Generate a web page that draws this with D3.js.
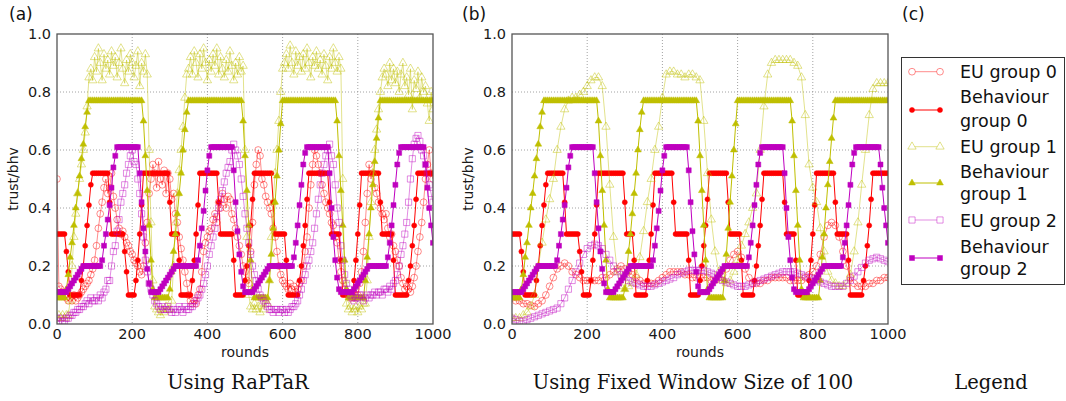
<!DOCTYPE html>
<html>
<head>
<meta charset="utf-8">
<script src="https://cdn.jsdelivr.net/npm/d3@7"></script>
<style>
  body { margin: 0; background: #fff; }
  svg { display: block; }
</style>
</head>
<body>
<div id="chart"></div>
<script>
// ---- data ----
// behaviour series, one value every 5 rounds (same in both panels)
const behaviour0 = [
  .31,.31,.31,.31,.31,.25,.18,.1,.1,.1,
  .1,.1,.1,.15,.2,.27,.34,.41,.48,.52,
  .52,.52,.52,.52,.52,.52,.52,.52,.42,.31,
  .31,.31,.31,.31,.31,.31,.25,.18,.1,.1,
  .1,.1,.15,.22,.31,.41,.52,.52,.52,.52,
  .52,.52,.52,.52,.52,.52,.52,.52,.52,.52,
  .42,.31,.31,.31,.31,.22,.1,.1,.1,.1,
  .1,.1,.15,.22,.31,.41,.52,.52,.52,.52,
  .52,.52,.52,.52,.52,.52,.42,.31,.31,.31,
  .31,.31,.31,.31,.22,.1,.1,.1,.1,.1,
  .15,.2,.27,.34,.43,.52,.52,.52,.52,.52,
  .52,.52,.52,.52,.52,.42,.31,.31,.31,.31,
  .31,.31,.22,.1,.1,.1,.1,.1,.1,.15,
  .2,.27,.34,.43,.52,.52,.52,.52,.52,.52,
  .52,.52,.52,.52,.52,.42,.31,.31,.31,.31,
  .31,.22,.1,.1,.1,.1,.1,.1,.15,.22,
  .31,.41,.52,.52,.52,.52,.52,.52,.52,.52,
  .52,.52,.42,.31,.31,.31,.31,.31,.31,.22,
  .1,.1,.1,.1,.1,.1,.1,.15,.2,.27,
  .34,.43,.52,.52,.52,.52,.52,.52,.52,.52,
  .52
];
const behaviour1 = [
  .09,.09,.09,.09,.09,.12,.17,.23,.28,.34,
  .4,.45,.51,.57,.62,.68,.73,.77,.77,.77,
  .77,.77,.77,.77,.77,.77,.77,.77,.77,.77,
  .77,.77,.77,.77,.77,.77,.77,.77,.77,.77,
  .77,.77,.77,.77,.77,.77,.7,.58,.46,.34,
  .22,.12,.09,.09,.09,.09,.09,.09,.09,.09,
  .12,.18,.25,.31,.38,.45,.52,.6,.67,.73,
  .77,.77,.77,.77,.77,.77,.77,.77,.77,.77,
  .77,.77,.77,.77,.77,.77,.77,.77,.77,.77,
  .77,.77,.77,.77,.77,.77,.77,.77,.77,.7,
  .58,.46,.34,.22,.12,.09,.09,.09,.09,.09,
  .09,.09,.09,.15,.24,.33,.42,.51,.6,.69,
  .77,.77,.77,.77,.77,.77,.77,.77,.77,.77,
  .77,.77,.77,.77,.77,.77,.77,.77,.77,.77,
  .77,.77,.77,.77,.77,.77,.77,.77,.77,.7,
  .58,.46,.34,.22,.12,.09,.09,.09,.09,.09,
  .09,.09,.09,.09,.15,.23,.31,.4,.48,.56,
  .64,.71,.77,.77,.77,.77,.77,.77,.77,.77,
  .77,.77,.77,.77,.77,.77,.77,.77,.77,.77,
  .77,.77,.77,.77,.77,.77,.77,.77,.77,.77,
  .77
];
const behaviour2 = [
  .11,.11,.11,.11,.11,.11,.12,.13,.14,.15,
  .16,.17,.18,.19,.2,.2,.2,.2,.2,.2,
  .2,.2,.2,.2,.22,.27,.31,.36,.41,.47,
  .54,.58,.61,.61,.61,.61,.61,.61,.61,.61,
  .61,.61,.61,.61,.52,.42,.33,.25,.19,.14,
  .11,.11,.11,.11,.11,.12,.13,.14,.15,.16,
  .17,.18,.19,.2,.2,.2,.2,.2,.2,.2,
  .2,.2,.2,.2,.2,.22,.27,.33,.39,.46,
  .53,.58,.61,.61,.61,.61,.61,.61,.61,.61,
  .61,.61,.61,.61,.53,.42,.32,.24,.18,.13,
  .11,.11,.11,.11,.11,.12,.13,.14,.15,.16,
  .17,.18,.19,.2,.2,.2,.2,.2,.2,.2,
  .2,.2,.2,.2,.2,.2,.23,.28,.34,.41,
  .48,.55,.59,.61,.61,.61,.61,.61,.61,.61,
  .61,.61,.61,.61,.61,.52,.4,.3,.22,.16,
  .12,.11,.11,.11,.11,.11,.11,.11,.12,.13,
  .14,.15,.16,.17,.18,.19,.2,.2,.2,.2,
  .2,.2,.2,.2,.2,.2,.23,.28,.34,.41,
  .48,.55,.59,.61,.61,.61,.61,.61,.61,.61,
  .61,.61,.61,.61,.61,.61,.55,.47,.4,.34,
  .28
];

// panel (a) RaPTaR expected utility, one value every 5 rounds
const euRaptar0 = [
  .5,.13,.12,.11,.1,.09,.08,.09,.08,.1,
  .08,.09,.1,.11,.12,.13,.14,.15,.17,.19,
  .22,.27,.33,.38,.42,.47,.5,.45,.47,.52,
  .44,.4,.36,.33,.31,.32,.3,.28,.27,.25,
  .24,.22,.21,.2,.18,.17,.2,.28,.35,.45,
  .5,.55,.52,.47,.56,.5,.48,.53,.45,.52,
  .5,.43,.45,.38,.35,.3,.26,.22,.18,.14,
  .1,.08,.07,.08,.07,.1,.12,.18,.25,.28,
  .3,.32,.33,.36,.38,.35,.42,.4,.45,.43,
  .4,.44,.43,.38,.36,.33,.3,.27,.24,.2,
  .18,.15,.14,.25,.35,.48,.55,.6,.58,.5,
  .48,.44,.42,.4,.38,.33,.3,.25,.2,.17,
  .15,.14,.13,.12,.14,.12,.13,.11,.12,.14,
  .15,.2,.25,.3,.4,.48,.55,.6,.58,.55,
  .52,.48,.45,.42,.4,.38,.35,.34,.3,.28,
  .22,.18,.15,.12,.11,.1,.09,.1,.09,.12,
  .1,.14,.18,.25,.35,.45,.55,.5,.52,.47,
  .45,.42,.4,.38,.36,.38,.33,.3,.31,.27,
  .25,.22,.2,.16,.14,.12,.13,.12,.11,.13,
  .16,.2,.25,.3,.35,.42,.5,.55,.6,.52,
  .5
];
const euRaptar1 = [
  .02,.03,.02,.03,.02,.03,.03,.08,.2,.3,
  .38,.45,.5,.55,.6,.66,.75,.85,.88,.84,
  .92,.87,.95,.9,.84,.93,.88,.91,.86,.94,
  .89,.92,.85,.9,.95,.88,.83,.91,.87,.93,
  .9,.85,.89,.94,.82,.9,.87,.93,.86,.6,
  .35,.15,.06,.05,.04,.03,.05,.04,.06,.05,
  .05,.08,.2,.35,.45,.53,.6,.68,.78,.86,
  .88,.92,.86,.94,.9,.85,.93,.88,.95,.9,
  .84,.91,.87,.93,.89,.95,.86,.92,.88,.85,
  .91,.87,.94,.89,.84,.9,.86,.92,.87,.89,
  .6,.3,.1,.06,.05,.07,.05,.06,.04,.07,
  .05,.08,.07,.15,.3,.42,.52,.6,.7,.8,
  .88,.9,.93,.88,.96,.9,.86,.94,.89,.92,
  .87,.93,.88,.95,.9,.85,.92,.89,.94,.88,
  .91,.86,.93,.89,.84,.92,.88,.95,.9,.87,
  .92,.88,.5,.15,.07,.05,.06,.04,.05,.06,
  .04,.06,.05,.07,.07,.15,.3,.42,.52,.6,
  .67,.74,.8,.85,.88,.86,.82,.9,.84,.88,
  .83,.87,.8,.86,.9,.82,.85,.79,.88,.74,
  .84,.81,.87,.78,.85,.8,.82,.76,.7,.8,
  .74
];
const euRaptar2 = [
  .02,.01,.02,.01,.01,.02,.02,.03,.03,.04,
  .04,.05,.05,.06,.06,.07,.08,.07,.09,.08,
  .08,.09,.08,.1,.09,.11,.12,.15,.15,.2,
  .25,.27,.32,.36,.42,.45,.48,.52,.55,.58,
  .6,.56,.55,.5,.45,.38,.3,.22,.18,.14,
  .12,.1,.08,.07,.06,.05,.06,.05,.05,.06,
  .05,.04,.05,.04,.05,.06,.05,.04,.06,.05,
  .05,.06,.06,.07,.08,.09,.1,.12,.14,.17,
  .2,.24,.27,.3,.33,.37,.4,.43,.46,.49,
  .52,.54,.56,.6,.62,.6,.58,.55,.5,.44,
  .38,.33,.28,.24,.2,.17,.15,.12,.1,.09,
  .08,.07,.06,.05,.05,.04,.05,.05,.04,.05,
  .05,.04,.05,.04,.05,.06,.06,.07,.08,.1,
  .12,.15,.17,.2,.22,.25,.28,.33,.38,.43,
  .48,.52,.55,.58,.6,.62,.58,.55,.48,.4,
  .35,.27,.22,.17,.14,.12,.1,.09,.08,.09,
  .09,.1,.1,.08,.09,.1,.09,.1,.1,.11,
  .1,.11,.11,.1,.12,.12,.11,.13,.12,.14,
  .15,.17,.2,.24,.27,.31,.35,.42,.5,.57,
  .62,.64,.65,.63,.6,.58,.55,.52,.48,.45,
  .42
];

// panel (b) fixed window expected utility, one value every 10 rounds
const euWindow0 = [
  .09,.08,.08,.07,.07,.065,.06,.07,.08,.1,
  .13,.16,.19,.2,.21,.2,.18,.17,.16,.15,
  .15,.15,.15,.15,.16,.16,.17,.18,.19,.2,
  .19,.18,.17,.16,.15,.14,.14,.14,.14,.15,
  .16,.17,.18,.18,.18,.18,.17,.17,.16,.16,
  .16,.16,.16,.15,.15,.16,.17,.19,.22,.24,
  .25,.23,.19,.16,.14,.14,.14,.15,.15,.16,
  .16,.16,.16,.16,.15,.15,.15,.15,.16,.17,
  .18,.2,.24,.3,.34,.35,.34,.3,.25,.2,
  .16,.14,.13,.13,.13,.14,.14,.15,.15,.16,
  .16
];
const euWindow1 = [
  .02,.02,.02,.03,.04,.06,.1,.2,.28,.36,
  .43,.5,.6,.68,.74,.77,.78,.78,.79,.8,
  .82,.84,.85,.85,.82,.68,.48,.3,.18,.13,
  .12,.13,.14,.17,.23,.32,.42,.5,.6,.68,
  .78,.86,.87,.87,.86,.86,.85,.86,.86,.85,
  .84,.7,.52,.36,.25,.18,.15,.14,.15,.18,
  .22,.27,.31,.35,.4,.45,.6,.75,.86,.9,
  .91,.91,.91,.91,.91,.9,.89,.85,.72,.55,
  .47,.42,.33,.25,.18,.15,.14,.13,.13,.14,
  .17,.25,.35,.48,.6,.72,.81,.83,.83,.83,
  .83
];
const euWindow2 = [
  .02,.015,.01,.01,.015,.02,.025,.03,.035,.04,
  .045,.05,.055,.07,.09,.12,.15,.18,.21,.24,
  .26,.27,.275,.27,.26,.24,.22,.2,.18,.17,
  .16,.15,.145,.14,.135,.13,.13,.13,.135,.14,
  .145,.15,.155,.16,.17,.175,.18,.185,.185,.185,
  .185,.185,.18,.175,.17,.16,.15,.145,.14,.135,
  .13,.13,.13,.135,.14,.145,.15,.155,.16,.165,
  .17,.175,.18,.18,.18,.18,.175,.17,.165,.16,
  .155,.15,.145,.14,.135,.13,.13,.13,.13,.14,
  .15,.165,.18,.195,.21,.22,.225,.23,.225,.22,
  .215
];

const yTicks = [0, 0.2, 0.4, 0.6, 0.8, 1.0];
const xTicks = [0, 200, 400, 600, 800, 1000];
const legendNames = ["EU group 0", "Behaviour group 0", "EU group 1", "Behaviour group 1", "EU group 2", "Behaviour group 2"];

// ---- layout ----
const W = 1066, H = 401;
const plotTop = 34, plotH = 290, plotW = 376;
const colors = ["#ff0000", "#bfbf00", "#bf00bf"];
const shapes = [d3.symbolCircle, d3.symbolTriangle, d3.symbolSquare];

const svg = d3.select("#chart").append("svg")
  .attr("width", W).attr("height", H)
  .attr("font-family", "DejaVu Sans, sans-serif");

const x = d3.scaleLinear().domain([0, 1000]).range([0, plotW]);
const y = d3.scaleLinear().domain([0, 1]).range([plotH, 0]);

function seriesList(eu, euStep) {
  // drawing order follows the legend: EU then behaviour, group by group
  return [
    {vals: eu[0], step: euStep, g: 0, filled: false},
    {vals: behaviour0, step: 5, g: 0, filled: true},
    {vals: eu[1], step: euStep, g: 1, filled: false},
    {vals: behaviour1, step: 5, g: 1, filled: true},
    {vals: eu[2], step: euStep, g: 2, filled: false},
    {vals: behaviour2, step: 5, g: 2, filled: true}
  ];
}

function symbolSize(g, filled) {
  if (filled) return [20, 20, 25][g];
  return [36, 30, 38][g];
}

function drawMarks(sel, s) {
  const pts = s.vals.map((v, i) => [i * s.step, v]);
  const col = colors[s.g];
  const op = s.filled ? 1 : 0.45;
  sel.append("path")
    .attr("d", d3.line().x(d => x(d[0])).y(d => y(d[1]))(pts))
    .attr("fill", "none")
    .attr("stroke", col)
    .attr("stroke-opacity", op)
    .attr("stroke-width", 1);
  const sym = d3.symbol().type(shapes[s.g]).size(symbolSize(s.g, s.filled));
  sel.append("g").selectAll("path").data(pts).join("path")
    .attr("transform", d => "translate(" + x(d[0]) + "," + y(d[1]) + ")")
    .attr("d", sym)
    .attr("fill", s.filled ? col : "none")
    .attr("stroke", col)
    .attr("stroke-opacity", op)
    .attr("stroke-width", s.filled ? 0.5 : 1);
}

const panels = [
  {left: 57, tag: "(a)", tagX: 9, caption: "Using RaPTaR", eu: [euRaptar0, euRaptar1, euRaptar2], step: 5},
  {left: 512, tag: "(b)", tagX: 462, caption: "Using Fixed Window Size of 100", eu: [euWindow0, euWindow1, euWindow2], step: 10}
];

panels.forEach(function(p, pi) {
  const g = svg.append("g").attr("transform", "translate(" + p.left + "," + plotTop + ")");

  // grid
  g.append("g").selectAll("line").data(xTicks.slice(1, -1)).join("line")
    .attr("x1", d => x(d)).attr("x2", d => x(d))
    .attr("y1", 0).attr("y2", plotH)
    .attr("stroke", "#8a8a8a").attr("stroke-width", 0.8).attr("stroke-dasharray", "1,2");
  g.append("g").selectAll("line").data(yTicks.slice(1, -1)).join("line")
    .attr("y1", d => y(d)).attr("y2", d => y(d))
    .attr("x1", 0).attr("x2", plotW)
    .attr("stroke", "#8a8a8a").attr("stroke-width", 0.8).attr("stroke-dasharray", "1,2");

  // clip + data
  svg.append("clipPath").attr("id", "clip" + pi)
    .append("rect").attr("width", plotW).attr("height", plotH);
  const data = g.append("g").attr("clip-path", "url(#clip" + pi + ")");
  seriesList(p.eu, p.step).forEach(s => drawMarks(data.append("g"), s));

  // frame
  g.append("rect").attr("width", plotW).attr("height", plotH)
    .attr("fill", "none").attr("stroke", "#555").attr("stroke-width", 1.3);

  // tick labels
  g.append("g").selectAll("text").data(yTicks).join("text")
    .attr("x", -6).attr("y", d => y(d) + 5)
    .attr("text-anchor", "end").attr("font-size", 14.5).attr("fill", "#1a1a1a")
    .text(d => d3.format(".1f")(d));
  g.append("g").selectAll("text").data(xTicks).join("text")
    .attr("x", d => x(d)).attr("y", plotH + 15)
    .attr("text-anchor", "middle").attr("font-size", 14.5).attr("fill", "#1a1a1a")
    .text(d => d);

  // axis labels
  g.append("text").attr("x", plotW / 2).attr("y", plotH + 33)
    .attr("text-anchor", "middle").attr("font-size", 14).attr("fill", "#1a1a1a")
    .text("rounds");
  g.append("text")
    .attr("transform", "translate(" + (-39) + "," + (plotH / 2) + ") rotate(-90)")
    .attr("text-anchor", "middle").attr("font-size", 14).attr("fill", "#1a1a1a")
    .text("trust/bhv");

  // caption and panel tag
  svg.append("text").attr("x", p.left + plotW / 2 - 7).attr("y", 389)
    .attr("text-anchor", "middle").attr("font-family", "DejaVu Serif, serif")
    .attr("font-size", 19.5).attr("fill", "#111")
    .text(p.caption);
  svg.append("text").attr("x", p.tagX).attr("y", 20)
    .attr("font-size", 17).attr("fill", "#111").text(p.tag);
});

// ---- legend panel (c) ----
svg.append("text").attr("x", 902).attr("y", 20)
  .attr("font-size", 17).attr("fill", "#111").text("(c)");
svg.append("text").attr("x", 991).attr("y", 389)
  .attr("text-anchor", "middle").attr("font-family", "DejaVu Serif, serif")
  .attr("font-size", 19.5).attr("fill", "#111").text("Legend");

const leg = svg.append("g");
leg.append("rect").attr("x", 901.5).attr("y", 57.5).attr("width", 163).attr("height", 227)
  .attr("fill", "#fff").attr("stroke", "#333").attr("stroke-width", 1);

const legRows = [
  {mark: 71.7, lines: [78]},
  {mark: 110, lines: [103, 126.5]},
  {mark: 146.7, lines: [153]},
  {mark: 183, lines: [178, 200]},
  {mark: 220, lines: [226.5]},
  {mark: 258, lines: [253, 275]}
];
legendNames.forEach(function(name, i) {
  const gi = Math.floor(i / 2), filled = i % 2 === 1;
  const col = colors[gi], op = filled ? 1 : 0.45;
  const row = leg.append("g");
  row.append("line").attr("x1", 912).attr("x2", 940)
    .attr("y1", legRows[i].mark).attr("y2", legRows[i].mark)
    .attr("stroke", col).attr("stroke-opacity", op);
  const sym = d3.symbol().type(shapes[gi]).size(symbolSize(gi, filled));
  [912, 940].forEach(function(px) {
    row.append("path").attr("d", sym)
      .attr("transform", "translate(" + px + "," + legRows[i].mark + ")")
      .attr("fill", filled ? col : "#fff").attr("stroke", col)
      .attr("stroke-opacity", op).attr("stroke-width", filled ? 0.5 : 1);
  });
  const words = name.startsWith("Behaviour") ? ["Behaviour", name.slice(10)] : [name];
  words.forEach(function(w, k) {
    row.append("text").attr("x", 960).attr("y", legRows[i].lines[k])
      .attr("font-size", 17.5).attr("fill", "#111").text(w);
  });
});
</script>
</body>
</html>
